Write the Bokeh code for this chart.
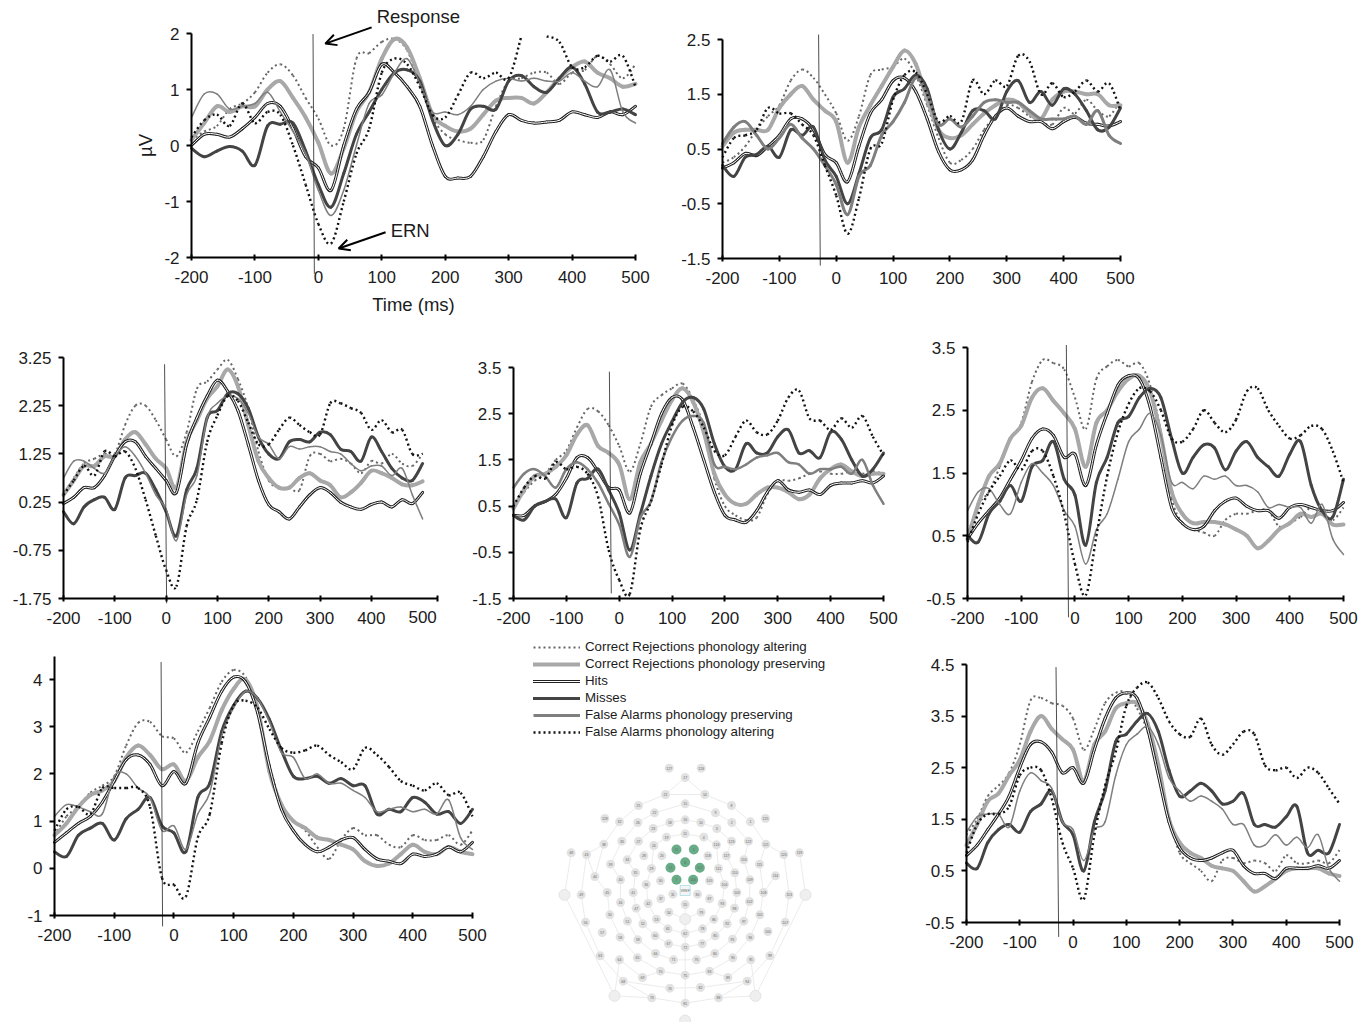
from bokeh.plotting import figure
from bokeh.layouts import row, column
from bokeh.models import (Range1d, FixedTicker, Label, Arrow, OpenHead, Legend, LegendItem)
from bokeh.core.properties import value
from bokeh.embed import file_html
from bokeh.resources import INLINE
import math

NAN = float("nan")
FONT = "Liberation Sans"
INK = "#1c1c1c"

TIME = [-200,-180,-160,-140,-120,-100,-80,-60,-40,-20,0,20,40,60,80,100,120,140,
        160,180,200,220,240,260,280,300,320,340,360,380,400,420,440,460,480,500]
X_TICKS = [-200,-100,0,100,200,300,400,500]

P1_CRA = [.1,.25,.35,.65,.75,.95, 1.3,1.45,1.25,.85,.48,0, .3,1.55,1.65,1.85,1.9,1.7, 1.1,.5,.2,.1,.05,.1, .7,1.15,1.2,1.3,1.3,1.1, 1.3,1.35,1.6,1.45,1.2,1.45]
P1_CRP = [.1,.4,.7,.6,.7,.7, 1.0,1.15,.85,.5,.05,-.5, -.05,.6,.95,1.55,1.9,1.75, 1.2,.55,.35,.25,.3,.55, .8,.85,.85,.75,.95,1.2, 1.4,1.5,1.3,1.2,1.05,1.1]
P1_HIT = [0,.2,.2,.15,.3,.5, .75,.7,.3,-.2,-.4,-.8, 0,.65,.95,1.45,1.3,1.05, .7,0,-.55,-.58,-.55,-.2, .25,.55,.45,.4,.42,.45, .6,.55,.5,.6,.55,.7]
P1_MIS = [-.05,-.2,-.1,-.02,-.1,-.35, .35,.38,.4,-.1,-.7,-1.1, -.5,.2,.6,1.0,1.3,1.35, 1.15,.45,0,.2,.65,.7, .65,1.15,1.25,1.05,.95,1.2, 1.4,1.1,.6,.6,.65,.55]
P1_FAP = [.5,.92,.92,.65,.7,.75, .95,.6,.25,-.15,-.8,-1.25, -.8,0,.75,.9,1.3,1.55, 1.1,.6,.6,.55,.7,1.0, 1.15,1.2,1.15,1.2,1.15,1.15, 1.3,1.15,1.05,1.35,.6,.4]
P1_FAA = [.15,.45,.55,.35,.75,.4, .6,.55,0,-.7,-1.4,-1.75, -1.0,-.15,.3,1.3,1.55,1.45, 1.05,.55,.5,.9,1.3,1.2, 1.3,1.2,1.95,NAN,1.95,1.85, 1.4,1.4,1.6,1.5,1.6,1.05]

P2_CRA = [.25,.35,.55,.85,1.1,1.3, 1.75,1.95,1.8,1.5,1.15,.65, 1.1,1.85,1.95,2.0,2.15,1.85, 1.3,.7,.25,.3,.5,.85, 1.1,1.3,1.25,1.1,1.0,.95, 1.25,1.15,1.4,1.2,1.1,1.4]
P2_CRP = [.55,.8,.85,.85,.85,1.25, 1.5,1.65,1.4,1.2,1.0,.25, .9,1.3,1.65,2.0,2.3,2.05, 1.4,.85,.7,.75,.95,1.15, 1.3,1.4,1.35,1.15,1.05,1.4, 1.55,1.55,1.5,1.5,1.3,1.3]
P2_HIT = [.15,.25,.42,.38,.55,.75, 1.05,1.05,.85,.4,.25,-.1, .55,1.15,1.4,1.75,1.8,1.55, 1.05,.45,.12,.12,.3,.75, 1.1,1.25,1.1,1.0,1.0,.87, 1.0,1.08,.97,.95,.92,1.0]
P2_MIS = [.2,0,.35,.4,.55,.35, .85,.75,.9,.3,0,-.5, .05,.7,.85,1.45,1.6,1.85, 1.6,.85,.5,.8,1.2,1.2, 1.05,1.55,1.75,1.35,1.55,1.3, 1.6,1.5,1.2,.85,.9,1.25]
P2_FAP = [.6,.9,1.0,.75,.5,.7, .95,.7,.5,.2,-.15,-.7, 0,.2,.75,1.0,1.35,1.8, 1.5,.95,1.05,.9,1.1,1.35, 1.4,1.35,1.35,1.2,1.05,1.05, 1.05,1.1,.95,1.2,.75,.6]
P2_FAA = [.35,.7,.75,.85,1.25,1.15, 1.15,.95,.75,.2,-.35,-1.05, -.4,.5,.6,1.4,1.85,1.9, 1.5,1.0,1.1,1.0,1.75,1.5, 1.75,1.65,2.2,2.1,1.5,1.7, 1.45,1.55,1.75,1.55,1.7,1.2]

P3_CRA = [.4,.75,1.05,1.15,1.25,1.25, 1.85,2.25,2.25,1.95,1.55,1.2, 1.7,2.6,2.75,3.0,3.2,2.8, 2.2,1.3,.7,.55,.55,.5, 1.2,1.25,1.1,1.15,1.05,.85, 1.1,1.05,1.25,1.05,1.0,1.25]
P3_CRP = [.4,.7,1.0,1.0,1.2,1.2, 1.55,1.7,1.45,1.15,.95,.55, 1.5,1.95,2.4,2.65,3.0,2.65, 1.85,1.1,.75,.55,.55,.75, .85,.7,.6,.35,.45,.65, .9,.85,.75,.62,.6,.68]
P3_HIT = [.22,.35,.55,.55,.8,1.2, 1.5,1.5,1.2,.95,.7,.45, 1.45,2.0,2.45,2.78,2.55,2.15, 1.45,.7,.2,.05,-.1,.15, .4,.55,.45,.25,.15,.1, .2,.25,.15,.3,.22,.45]
P3_MIS = [.05,-.2,.15,.3,.35,.1, .75,.8,.85,.5,.05,-.45, .5,.95,2.0,2.15,2.5,2.5, 2.2,1.6,1.25,1.15,1.5,1.55, 1.5,1.7,1.65,1.35,1.3,1.1, 1.6,1.3,.95,.75,.7,1.05]
P3_FAP = [.75,1.1,1.1,.95,.85,1.2, 1.4,1.2,.85,.4,.1,-.55, .4,.8,2.0,2.3,2.45,2.4, 2.1,1.6,1.45,1.15,1.4,1.35, 1.4,1.4,1.3,1.25,1.05,.9, 1.0,1.0,.8,.95,.4,-.1]
P3_FAA = [.4,.7,1.0,.8,1.3,1.2, 1.3,.95,.3,-.45,-1.16,-1.5, -.25,.3,1.5,2.05,2.45,2.35, 1.9,1.45,1.45,1.75,2.0,1.85, 1.7,1.65,2.3,2.3,2.2,2.1, 1.75,1.95,1.7,1.75,1.25,1.25]

P4_CRA = [.5,.8,1.05,1.2,1.5,1.7, 2.2,2.6,2.55,2.25,1.8,1.25, 1.85,2.65,2.9,3.05,3.15,2.8, 2.2,1.1,.5,.3,.2,.25, .75,1.05,1.05,1.1,1.2,1.25, 1.2,1.2,1.25,1.2,1.25,1.2]
P4_CRP = [.45,.85,1.15,1.2,1.35,1.6, 2.05,2.25,1.8,1.65,1.4,.65, 1.45,1.85,2.35,2.8,3.05,2.75, 2.1,1.2,.75,.55,.55,.75, .9,.9,.8,.65,.75,1.1, 1.3,1.4,1.25,1.15,1.2,1.2]
P4_HIT = [.3,.3,.5,.6,.75,1.1, 1.55,1.55,1.25,.9,.85,.35, 1.2,1.85,2.5,2.85,2.8,2.2, 1.5,.8,.3,.2,.15,.4, .8,1.05,.85,.8,.85,.75, .95,1.0,1.0,1.05,1.0,1.15]
P4_MIS = [.3,.2,.5,.6,.65,.25, 1.0,1.1,1.3,.85,.35,-.45, .33,1.15,1.85,2.33,2.75,2.85, 2.6,1.85,1.35,1.3,1.85,1.65, 1.65,2.0,2.15,1.65,1.7,1.55, 2.1,1.95,1.5,1.15,1.3,1.65]
P4_FAP = [.9,1.2,1.3,1.15,.9,1.3, 1.45,1.3,1.0,.55,.1,-.6, .25,.6,1.45,2.0,2.35,2.45, 2.3,1.4,1.35,1.3,1.4,1.55, 1.6,1.65,1.45,1.4,1.2,1.3, 1.3,1.35,1.2,1.5,.95,.55]
P4_FAA = [.5,.9,1.15,1.1,1.45,1.3, 1.35,1.2,.7,-.45,-1.1,-1.4, 0,.6,1.4,2.25,2.65,2.55, 2.2,1.7,1.6,2.0,2.35,2.1, 2.05,2.35,2.85,3.0,2.4,2.35, 2.15,2.4,2.2,2.45,2.0,1.6]

P5_CRA = [.5,1.0,1.2,1.6,2.05,2.3, 2.95,3.3,3.25,3.15,2.7,2.2, 3.0,3.2,3.3,3.2,3.25,2.9, 2.15,1.1,.7,.6,.55,.5, .75,.85,.85,.9,.9,.65, .7,.8,.95,.85,.75,.95]
P5_CRP = [.45,1.0,1.45,1.65,2.05,2.25, 2.7,2.85,2.65,2.45,2.2,1.6, 2.3,2.5,2.8,3.0,3.05,2.8, 2.1,1.2,.85,.7,.72,.72, .68,.6,.5,.3,.42,.6, .7,.85,.8,.85,.68,.68]
P5_HIT = [.45,.7,.9,1.1,1.4,1.7, 2.05,2.2,2.1,1.75,1.8,1.3, 1.95,2.45,2.9,3.05,3.0,2.55, 1.75,.95,.7,.6,.65,.9, 1.05,1.1,.97,.9,.9,.78, .95,1.0,.95,.9,.9,1.03]
P5_MIS = [.5,.4,.85,1.05,1.3,1.05, 1.6,1.7,2.0,1.4,1.15,.35, 1.35,1.75,2.3,2.4,2.7,2.85, 2.7,2.05,1.5,1.75,1.95,1.9, 1.55,1.85,2.0,1.75,1.6,1.45, 1.8,2.0,1.3,.9,.8,1.4]
P5_FAP = [.9,1.2,1.25,1.0,.85,1.35, 1.65,1.5,1.3,.9,.65,.05, .6,.85,1.4,2.0,2.2,2.45, 2.1,1.35,1.35,1.25,1.45,1.4, 1.45,1.3,1.3,1.2,.95,1.0, .95,.95,.7,1.0,.45,.2]
P5_FAA = [.4,.85,1.2,1.45,1.7,1.55, 1.85,1.85,1.45,.85,.05,-.45, .5,1.45,2.15,2.6,2.85,2.8, 2.5,2.05,2.0,2.2,2.5,2.3, 2.15,2.35,2.8,2.85,2.5,2.25, 2.05,2.1,2.25,2.2,1.85,1.35]

P6_CRA = [.7,1.1,1.3,1.6,1.75,1.95, 2.6,3.08,3.1,2.8,2.75,2.45, 2.9,3.4,3.95,4.2,4.05,3.4, 2.2,1.35,1.0,.8,.45,.2, .6,.85,.7,.7,.5,.45, .7,.6,.6,.7,.5,.8]
P6_CRP = [.7,.95,1.3,1.55,1.65,1.85, 2.35,2.6,2.4,2.1,2.2,1.85, 2.35,2.7,3.35,3.8,4.0,3.4, 2.05,1.35,1.0,.85,.65,.6, .5,.4,.15,.05,.1,.3, .5,.35,.3,.45,.35,.3]
P6_HIT = [.55,.75,.95,1.1,1.4,1.85, 2.3,2.4,2.2,1.75,2.05,1.8, 2.65,3.2,3.75,4.05,3.95,3.3, 2.15,1.25,.8,.5,.35,.45, .6,.65,.4,.2,.15,.1, .3,.25,.3,.45,.35,.55]
P6_MIS = [.35,.25,.7,.85,.95,.6, 1.05,1.25,1.5,.9,.75,.35, 1.5,1.8,2.9,3.45,3.75,3.6, 3.15,2.5,1.95,1.9,1.95,1.8, 1.9,1.75,1.75,1.15,1.25,1.2, 1.5,1.4,1.15,1.2,.95,1.25]
P6_FAP = [1.1,1.35,1.3,1.2,1.15,1.95, 2.0,1.7,1.5,.8,.9,.4, 1.15,1.6,2.8,3.4,3.75,3.6, 3.1,2.45,2.35,1.9,2.0,1.8, 1.8,1.65,1.5,1.2,1.25,1.3, 1.2,1.25,1.15,1.45,.65,.4]
P6_FAA = [.8,1.25,1.3,1.15,1.7,1.7, 1.7,1.7,1.3,-.2,-.35,-.6, .65,1.15,2.65,3.45,3.55,3.4, 2.95,2.55,2.45,2.5,2.6,2.4, 2.25,2.1,2.55,2.4,2.15,1.85, 1.75,1.65,1.8,1.55,1.6,1.1]

P7_CRA = [1.2,1.5,1.95,2.15,2.4,2.95, 3.8,3.85,3.75,3.7,3.45,2.85, 3.25,3.75,3.95,3.95,3.65,3.2, 2.4,1.55,.85,.65,.5,.3, .7,.75,.65,.7,.65,.5, .8,.65,.65,.7,.65,.9]
P7_CRP = [1.0,1.4,1.85,2.0,2.35,2.65, 3.2,3.5,3.25,3.05,2.85,2.25, 2.95,3.2,3.65,3.75,3.75,3.35, 2.55,1.5,1.05,.85,.75,.6, .55,.5,.3,.1,.2,.35, .5,.55,.55,.55,.45,.4]
P7_HIT = [.8,1.0,1.3,1.6,1.95,2.5, 2.95,3.0,2.8,2.4,2.5,2.2, 2.85,3.45,3.85,3.95,3.85,3.25, 2.35,1.45,.95,.75,.7,.75, .85,.9,.6,.45,.45,.35, .55,.55,.55,.6,.55,.7]
P7_MIS = [.65,.55,1.05,1.3,1.4,1.25, 1.65,1.8,2.05,1.45,1.2,.5, 1.45,2.05,3.0,3.15,3.4,3.55, 3.2,2.45,1.95,2.05,2.2,2.05, 1.8,1.85,2.0,1.4,1.4,1.35, 1.55,1.75,.85,.9,.85,1.4]
P7_FAP = [1.25,1.55,1.6,1.6,1.35,2.05, 2.4,2.25,2.1,1.45,1.3,.7, 1.3,1.45,2.35,2.95,3.15,3.3, 2.95,2.3,2.05,1.85,1.95,1.85, 1.7,1.4,1.4,1.0,1.0,1.2, 1.0,1.15,.95,1.2,.55,.3]
P7_FAA = [.85,1.4,1.6,1.6,1.75,2.35, 2.5,2.45,1.9,1.05,.55,-.05, 1.2,2.15,2.8,3.7,4.05,4.15, 3.85,3.4,3.15,3.1,3.45,2.95, 2.75,2.95,3.2,3.15,2.55,2.45, 2.5,2.3,2.5,2.4,2.1,1.8]

# response markers: (t top, t bottom, y top, y bottom)
P1_RESP = (-8.4,-6.3,1.99,-2.29)
P2_RESP = (-31,-28,2.59,-1.63)
P3_RESP = (-3,1,3.11,-1.85)
P4_RESP = (-18.6,-15,3.41,-1.39)
P5_RESP = (-16,-12,3.54,-.8)
P6_RESP = (-21.5,-19,4.37,-1.23)
P7_RESP = (-32,-27,4.45,-.78)

P1_Y = [-2,-1,0,1,2];                 P1_YL = ["-2","-1","0","1","2"]
P2_Y = [-1.5,-.5,.5,1.5,2.5];         P2_YL = ["-1.5","-0.5","0.5","1.5","2.5"]
P3_Y = [-1.75,-.75,.25,1.25,2.25,3.25]; P3_YL = ["-1.75","-0.75","0.25","1.25","2.25","3.25"]
P4_Y = [-1.5,-.5,.5,1.5,2.5,3.5];     P4_YL = ["-1.5","-0.5","0.5","1.5","2.5","3.5"]
P5_Y = [-.5,.5,1.5,2.5,3.5];          P5_YL = ["-0.5","0.5","1.5","2.5","3.5"]
P6_Y = [-1,0,1,2,3,4];                P6_YL = ["-1","0","1","2","3","4"]
P7_Y = [-.5,.5,1.5,2.5,3.5,4.5];      P7_YL = ["-0.5","0.5","1.5","2.5","3.5","4.5"]

LEGEND_LABELS = ["Correct Rejections phonology altering","Correct Rejections phonology preserving",
                 "Hits","Misses","False Alarms phonology preserving","False Alarms phonology altering"]

# sensor net
SENSOR_NAMES = ["127","126","17","21","14","25","15","8","22","9","128","32","26","23","18","16","10","3","2","1","125",
 "33","27","24","19","11","4","124","123","122","121","38","43","48","120","119",
 "28","20","118","117","116","115","34","39","29","111","110","35","44","114","40","36","30","105","104","109",
 "41","31","80","103","45","108","49","113","46","37","87","93","42","102","47","55","98","54","79","50","101",
 "86","53","51","97","52","92","56","107","61","78","62","57","100","60","85","58","96","59","91","67","77","72",
 "66","84","65","90","63","99","64","95","71","76","70","83","75","69","89","68","94","74","82","73","88","81"]
SENSOR_X = [356,452,404,345,463,264,404,543,312,495,163,207,262,308,358,404,451,499,544,600,645,
 214,264,310,348,404,460,498,543,594,646,160,108,62,700,747,
 280,334,472,528,580,627,230,180,303,504,553,255,133,675,210,287,330,477,522,598,
 248,367,441,559,170,639,92,716,210,331,477,515,293,597,257,404,552,355,452,178,628,
 490,318,231,580,277,530,105,704,352,456,404,155,652,314,494,209,599,262,546,354,455,404,
 315,493,261,547,149,658,207,601,369,438,330,477,404,276,532,218,590,358,450,304,504,404]
SENSOR_Y = [38,38,66,117,117,150,145,150,172,172,189,199,201,219,201,193,201,219,201,199,189,
 257,257,270,245,235,245,268,257,257,266,266,297,292,297,292,
 301,301,301,301,313,326,313,326,339,339,352,352,363,361,373,387,376,376,387,373,
 411,416,416,411,411,411,418,418,441,430,430,444,444,438,458,447,458,470,470,478,478,
 491,491,497,497,505,505,500,500,520,520,534,531,528,541,541,545,545,553,551,565,565,575,
 594,594,607,607,601,601,613,613,613,613,647,647,659,666,666,677,677,698,696,727,727,743]
ACTIVE_NAMES = ["12","5","6","13","112","7","106"]
ACTIVE_X = [378,430,404,360,448,378,428]
ACTIVE_Y = [282,282,320,337,337,373,373]
REF_NAMES = ["L","R","C","BL","BR","B"]
REF_X = [42,765,404,192,615,404]
REF_Y = [418,418,491,721,721,795]
VREF_X, VREF_Y = 404, 405
NET_CHAINS = [
 "11 19 24 29 36 42 53 61 62 78 86 93 104 111 124 4 11",
 "16 18 23 27 34 35 41 47 52 60 67 72 77 85 92 98 103 110 117 123 3 10 16",
 "15 22 26 33 39 40 46 51 59 66 71 76 84 91 97 102 109 116 122 2 9 15",
 "21 25 32 38 44 45 50 58 65 70 75 83 90 96 101 108 115 121 1 8 14 21",
 "17 21", "17 14", "21 14", "48 L BL 73 81 88 BR R 119", "BL 64", "BR 95",
 "43 49 56 63 68 74 82 94 99 107 113 120", "43 38", "120 121", "64 69 70", "95 89 83",
 "68 73", "94 88", "81 75 72 62 C 55", "C 54", "C 79", "114 108", "44 43",
]

# ---------------------------------------------------------------- styling
CRA_STYLE = dict(line_color="#666666", line_width=2, line_dash="2 3")
CRP_STYLE = dict(line_color="#a8a8a8", line_width=4, line_cap="round")
MIS_STYLE = dict(line_color="#444444", line_width=3, line_cap="round")
FAA_STYLE = dict(line_color="#111111", line_width=2.4, line_dash="2 3")
HIT_OUT = dict(line_color="#222222", line_width=3, line_cap="round")
HIT_IN = dict(line_color="#ffffff", line_width=1, line_cap="round")
FAP_COLOR = "#7f7f7f"
TICK_FS = "17px"
NOTE_FS = "18.5px"

def curve(p, t, v, **style):
    """One smooth stroke through the read points, drawn as Bezier pieces."""
    n = len(t)
    fin = [not math.isnan(a) for a in v]
    a0, b0, a1, b1, ca0, cb0, ca1, cb1 = [], [], [], [], [], [], [], []
    for i in range(n - 1):
        if not (fin[i] and fin[i + 1]):
            continue
        h = i - 1 if i > 0 and fin[i - 1] else i
        j = i + 2 if i + 2 < n and fin[i + 2] else i + 1
        a0.append(t[i]); b0.append(v[i]); a1.append(t[i + 1]); b1.append(v[i + 1])
        ca0.append(t[i] + (t[i + 1] - t[h]) / 6); cb0.append(v[i] + (v[i + 1] - v[h]) / 6)
        ca1.append(t[i + 1] - (t[j] - t[i]) / 6); cb1.append(v[i + 1] - (v[j] - v[i]) / 6)
    p.bezier(a0, b0, a1, b1, ca0, cb0, ca1, cb1, **style)

def panel(series, resp, yticks, ylabels, box, fap_width=1.5, ymax_axis=None, xend=500):
    fl, fr, x0, x1, rt, rb, yt, yb = box
    ymin, ymax = yticks[0], yticks[-1]
    k = (yb - yt) / (ymax - ymin)
    kx = (x1 - x0) / (xend + 200)
    yr = Range1d(ymin - (rb - yb) / k, ymax + (yt - rt) / k)
    xr = Range1d(-200 - (x0 - fl) / kx, xend + (fr - x1) / kx)
    p = figure(width=fr - fl, height=rb - rt, x_range=xr, y_range=yr,
               output_backend="svg", toolbar_location=None, min_border=0,
               outline_line_color=None, background_fill_color=None, border_fill_color=None)
    p.grid.visible = False
    xa, ya = p.xaxis[0], p.yaxis[0]
    xa.fixed_location = ymin
    ya.fixed_location = -200
    xa.bounds = (-200, xend)
    ticks = list(X_TICKS)
    labels = {t: str(t) for t in ticks}
    if xend != 500:
        ticks = [t for t in ticks if t != 500] + [xend]
        labels = {t: str(t) for t in ticks if t != xend}
        labels[xend] = ""
    xa.ticker = FixedTicker(ticks=ticks)
    xa.major_label_overrides = labels
    ya.ticker = FixedTicker(ticks=yticks)
    ya.major_label_overrides = {t: s for t, s in zip(yticks, ylabels)}
    ya.bounds = (ymin, ymax_axis if ymax_axis is not None else ymax)
    for a in (xa, ya):
        a.axis_line_color = "black"; a.axis_line_width = 2
        a.major_tick_line_color = "black"; a.major_tick_line_width = 2
        a.minor_tick_line_color = None
        a.major_label_text_font = FONT; a.major_label_text_font_size = TICK_FS
        a.major_label_text_color = INK
        a.axis_label_text_font = FONT; a.axis_label_text_font_size = NOTE_FS
        a.axis_label_text_color = INK; a.axis_label_text_font_style = "normal"
    xa.major_tick_in = 3; xa.major_tick_out = 3; xa.major_label_standoff = 10
    ya.major_tick_in = 0; ya.major_tick_out = 5; ya.major_label_standoff = 7
    t = TIME
    curve(p, t, series[0], **CRA_STYLE)
    curve(p, t, series[1], **CRP_STYLE)
    curve(p, t, series[2], **HIT_OUT)
    curve(p, t, series[2], **HIT_IN)
    curve(p, t, series[3], **MIS_STYLE)
    curve(p, t, series[4], line_color=FAP_COLOR, line_width=fap_width, line_cap="round")
    curve(p, t, series[5], **FAA_STYLE)
    p.segment([resp[0]], [resp[2]], [resp[1]], [resp[3]], line_color="#222222", line_width=0.8)
    if xend != 500:
        p.add_layout(Label(x=500, y=ymin, y_offset=-12, text="500", text_font=FONT, text_font_size=TICK_FS,
                           text_color=INK, text_align="center", text_baseline="top"))
    return p

def note(p, text, x, y):
    p.add_layout(Label(x=x, y=y, text=text, text_font=FONT, text_font_size=NOTE_FS, text_color=INK,
                       text_align="left", text_baseline="middle"))

def arrow(p, x0, y0, x1, y1):
    p.add_layout(Arrow(end=OpenHead(size=11, line_width=2, line_color="black"), line_width=2, line_color="black",
                       x_start=x0, y_start=y0, x_end=x1, y_end=y1))

R1T, R1B, R2B, R3B = 0, 330, 636, 1022
p1 = panel([P1_CRA,P1_CRP,P1_HIT,P1_MIS,P1_FAP,P1_FAA], P1_RESP, P1_Y, P1_YL, (0,660,191,635,R1T,R1B,33,257))
p1.yaxis[0].axis_label = "µV"
p1.yaxis[0].axis_label_standoff = 5
p1.xaxis[0].axis_label = "Time (ms)"
p1.xaxis[0].axis_label_standoff = 8
note(p1, "Response", 92, 2.30)
note(p1, "ERN", 114, -1.52)
arrow(p1, 84, 2.11, 11, 1.82)
arrow(p1, 106, -1.55, 32, -1.84)
p2 = panel([P2_CRA,P2_CRP,P2_HIT,P2_MIS,P2_FAP,P2_FAA], P2_RESP, P2_Y, P2_YL, (660,1150,722,1120,R1T,R1B,39,258), fap_width=3)
p3 = panel([P3_CRA,P3_CRP,P3_HIT,P3_MIS,P3_FAP,P3_FAA], P3_RESP, P3_Y, P3_YL, (0,465,63,437,R1B,R2B,357,598), xend=529)
p4 = panel([P4_CRA,P4_CRP,P4_HIT,P4_MIS,P4_FAP,P4_FAA], P4_RESP, P4_Y, P4_YL, (465,905,513,883,R1B,R2B,367,598), fap_width=2.5)
p5 = panel([P5_CRA,P5_CRP,P5_HIT,P5_MIS,P5_FAP,P5_FAA], P5_RESP, P5_Y, P5_YL, (905,1360,967,1343,R1B,R2B,347,598))
p6 = panel([P6_CRA,P6_CRP,P6_HIT,P6_MIS,P6_FAP,P6_FAA], P6_RESP, P6_Y, P6_YL, (0,500,54,472,R2B,R3B,679,915), ymax_axis=4.49)
p7 = panel([P7_CRA,P7_CRP,P7_HIT,P7_MIS,P7_FAP,P7_FAA], P7_RESP, P7_Y, P7_YL, (905,1360,966,1339,R2B,R3B,664,922))

# legend figure: its line samples sit outside the visible range, only the key shows them
leg = figure(width=405, height=745 - R2B, x_range=Range1d(0, 1), y_range=Range1d(0, 1),
             output_backend="svg", toolbar_location=None, min_border=0,
             outline_line_color=None, x_axis_location=None, y_axis_location=None)
leg.grid.visible = False
KEY_X, KEY_Y = [2, 3], [2, 3]
r_cra = leg.line(KEY_X, KEY_Y, **CRA_STYLE)
r_crp = leg.line(KEY_X, KEY_Y, **CRP_STYLE)
r_h1 = leg.line(KEY_X, KEY_Y, **HIT_OUT)
r_h2 = leg.line(KEY_X, KEY_Y, **HIT_IN)
r_mis = leg.line(KEY_X, KEY_Y, **MIS_STYLE)
r_fap = leg.line(KEY_X, KEY_Y, line_color=FAP_COLOR, line_width=3)
r_faa = leg.line(KEY_X, KEY_Y, **FAA_STYLE)
items = [LegendItem(label=l, renderers=r) for l, r in zip(LEGEND_LABELS, [[r_cra],[r_crp],[r_h1,r_h2],[r_mis],[r_fap],[r_faa]])]
lg = Legend(items=items, location=(33, 6), margin=0, padding=0, border_line_color=None,
            background_fill_color=None, glyph_width=47, glyph_height=14, label_height=14, label_standoff=5,
            spacing=2, label_text_font=FONT, label_text_font_size="13.3px", label_text_color=INK,
            label_text_line_height=1)
leg.add_layout(lg)

# sensor net figure (units: zoomed picture coordinates, 3 per pixel)
net = figure(width=405, height=R3B - 745, x_range=Range1d(-150, 1065), y_range=Range1d((R3B - 755) * 3, -30),
             output_backend="svg", toolbar_location=None, min_border=0, outline_line_color=None,
             x_axis_location=None, y_axis_location=None)
net.grid.visible = False
pos = {}
for n, x, y in list(zip(SENSOR_NAMES, SENSOR_X, SENSOR_Y)) + list(zip(ACTIVE_NAMES, ACTIVE_X, ACTIVE_Y)) + list(zip(REF_NAMES, REF_X, REF_Y)):
    pos[n] = (x, y)
xs, ys = [], []
for chain in NET_CHAINS:
    pts = [pos[c] for c in chain.split()]
    xs.append([q[0] for q in pts]); ys.append([q[1] for q in pts])
net.multi_line(xs, ys, line_color="#ececec", line_width=1)
net.scatter(REF_X, REF_Y, size=11, fill_color="#efefef", line_color="#e4e4e4")
net.scatter(SENSOR_X, SENSOR_Y, size=9, fill_color="#e2e2e2", line_color=None)
net.scatter(ACTIVE_X, ACTIVE_Y, size=10, fill_color="#69ad88", line_color=None)
net.scatter([VREF_X], [VREF_Y], marker="square", size=10, fill_color="#f4f4f4", line_color="#9adbe2", line_width=0.7)
tf = dict(text_font=value(FONT), text_font_size="3.5px", text_color="#666666", text_align="center", text_baseline="middle")
net.text(SENSOR_X, SENSOR_Y, text=SENSOR_NAMES, **tf)
net.text(ACTIVE_X, ACTIVE_Y, text=ACTIVE_NAMES, **tf)
net.text([VREF_X], [VREF_Y], text=["VREF"], **tf)

layout = column(row(p1, p2), row(p3, p4, p5), row(p6, column(leg, net), p7))
open("out.html", "w").write(file_html(layout, INLINE))
